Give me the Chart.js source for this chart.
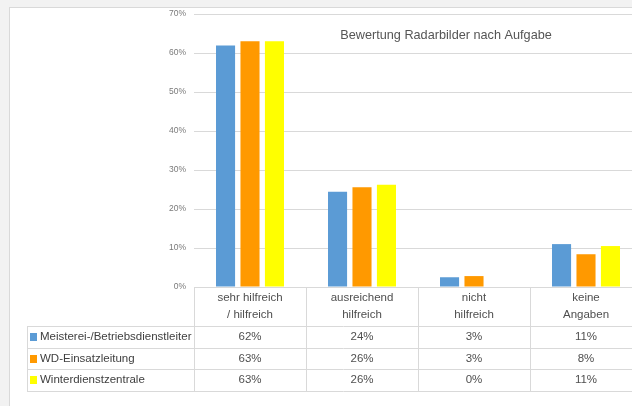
<!DOCTYPE html>
<html>
<head>
<meta charset="utf-8">
<script src="https://cdn.jsdelivr.net/npm/chart.js@4"></script>
<style>
  html, body { margin: 0; padding: 0; background: #f2f2f2; overflow: hidden; }
  body { width: 632px; height: 406px; position: relative; }
  #panel { position: absolute; left: 9px; top: 7px; width: 700px; height: 420px;
           background: #fff; border: 1px solid #d9d9d9; }
  #chart { position: absolute; left: 0; top: 0; }
</style>
</head>
<body>
<div id="panel"></div>
<canvas id="chart" width="660" height="406"></canvas>
<script>
const title = "Bewertung Radarbilder nach Aufgabe";
const categories = [["sehr hilfreich", "/ hilfreich"], ["ausreichend", "hilfreich"], ["nicht", "hilfreich"], ["keine", "Angaben"]];
const seriesNames = ["Meisterei-/Betriebsdienstleiter", "WD-Einsatzleitung", "Winterdienstzentrale"];
const seriesColors = ["#5b9bd5", "#ff9900", "#ffff00"];
const meisterei = [61.9, 24.4, 2.5, 11.0];
const einsatzleitung = [63.0, 25.6, 2.8, 8.4];
const zentrale = [63.0, 26.2, 0, 10.5];
const yTicks = [0, 10, 20, 30, 40, 50, 60, 70];

const FONT = "'Liberation Sans', Arial, sans-serif";
const LINE = "#d9d9d9";
const TEXT = "#4f4f4f";

// data table under the plot, columns follow the x scale
const dataTable = {
  id: "dataTable",
  afterDraw(chart) {
    const { ctx, chartArea, scales } = chart;
    const x = scales.x;
    const step = x.getPixelForValue(1) - x.getPixelForValue(0);
    const top = chartArea.bottom;
    const rowTop = top + 39, rowH = 21.7;
    const bottom = rowTop + rowH * 3;
    const tableLeft = 27;
    ctx.save();
    ctx.strokeStyle = LINE;
    ctx.lineWidth = 1;
    ctx.beginPath();
    for (let i = 0; i <= categories.length; i++) {
      const bx = Math.round(x.getPixelForValue(i) - step / 2) + 0.5;
      ctx.moveTo(bx, top); ctx.lineTo(bx, bottom);
    }
    for (let r = 0; r <= 3; r++) {
      const y = Math.round(rowTop + r * rowH) + 0.5;
      ctx.moveTo(tableLeft, y); ctx.lineTo(chart.width, y);
    }
    ctx.moveTo(tableLeft + 0.5, Math.round(rowTop)); ctx.lineTo(tableLeft + 0.5, Math.round(bottom));
    ctx.stroke();

    ctx.font = "11.5px " + FONT;
    ctx.textAlign = "center";
    ctx.textBaseline = "middle";
    ctx.fillStyle = TEXT;
    categories.forEach((lines, i) => {
      const cx = x.getPixelForValue(i);
      lines.forEach((t, k) => ctx.fillText(t, cx, top + 11 + k * 17));
    });

    chart.data.datasets.forEach((ds, r) => {
      const cy = rowTop + rowH * r + rowH / 2;
      ctx.fillStyle = ds.backgroundColor;
      ctx.fillRect(30, Math.round(cy - 4), 7, 8);
      ctx.fillStyle = "#404040";
      ctx.textAlign = "left";
      ctx.fillText(ds.label, 40, cy);
      ctx.fillStyle = TEXT;
      ctx.textAlign = "center";
      ds.data.forEach((v, i) => ctx.fillText(Math.round(v) + "%", x.getPixelForValue(i), cy));
    });
    ctx.restore();
  }
};

// chart title sits inside the plot area, right of centre
const plotTitle = {
  id: "plotTitle",
  afterDraw(chart) {
    const { ctx, chartArea } = chart;
    ctx.save();
    ctx.font = "12.7px " + FONT;
    ctx.fillStyle = "#555555";
    ctx.textAlign = "center";
    ctx.textBaseline = "middle";
    ctx.fillText(title, chartArea.left + (chartArea.right - chartArea.left) * 0.5625, 35);
    ctx.restore();
  }
};

const values = [meisterei, einsatzleitung, zentrale];

new Chart(document.getElementById("chart"), {
  type: "bar",
  data: {
    labels: categories.map(c => c.join(" ")),
    datasets: seriesNames.map((name, i) => ({
      label: name,
      data: values[i],
      backgroundColor: seriesColors[i],
      categoryPercentage: 0.655,
      barPercentage: 0.78
    }))
  },
  options: {
    responsive: false,
    animation: false,
    events: [],
    layout: { padding: { top: 14, bottom: 119, right: 18, left: 0 } },
    plugins: { legend: { display: false }, tooltip: { enabled: false }, title: { display: false } },
    scales: {
      x: { display: false },
      y: {
        min: 0,
        max: 70,
        afterFit(scale) { scale.width = 194; },
        afterBuildTicks(scale) { scale.ticks = yTicks.map(v => ({ value: v })); },
        border: { display: false },
        grid: { color: LINE, drawTicks: false },
        ticks: {
          padding: 8,
          color: "#7a7a7a",
          font: { family: FONT, size: 8.5 },
          callback: v => v + "%"
        }
      }
    }
  },
  plugins: [dataTable, plotTitle]
});
</script>
</body>
</html>
